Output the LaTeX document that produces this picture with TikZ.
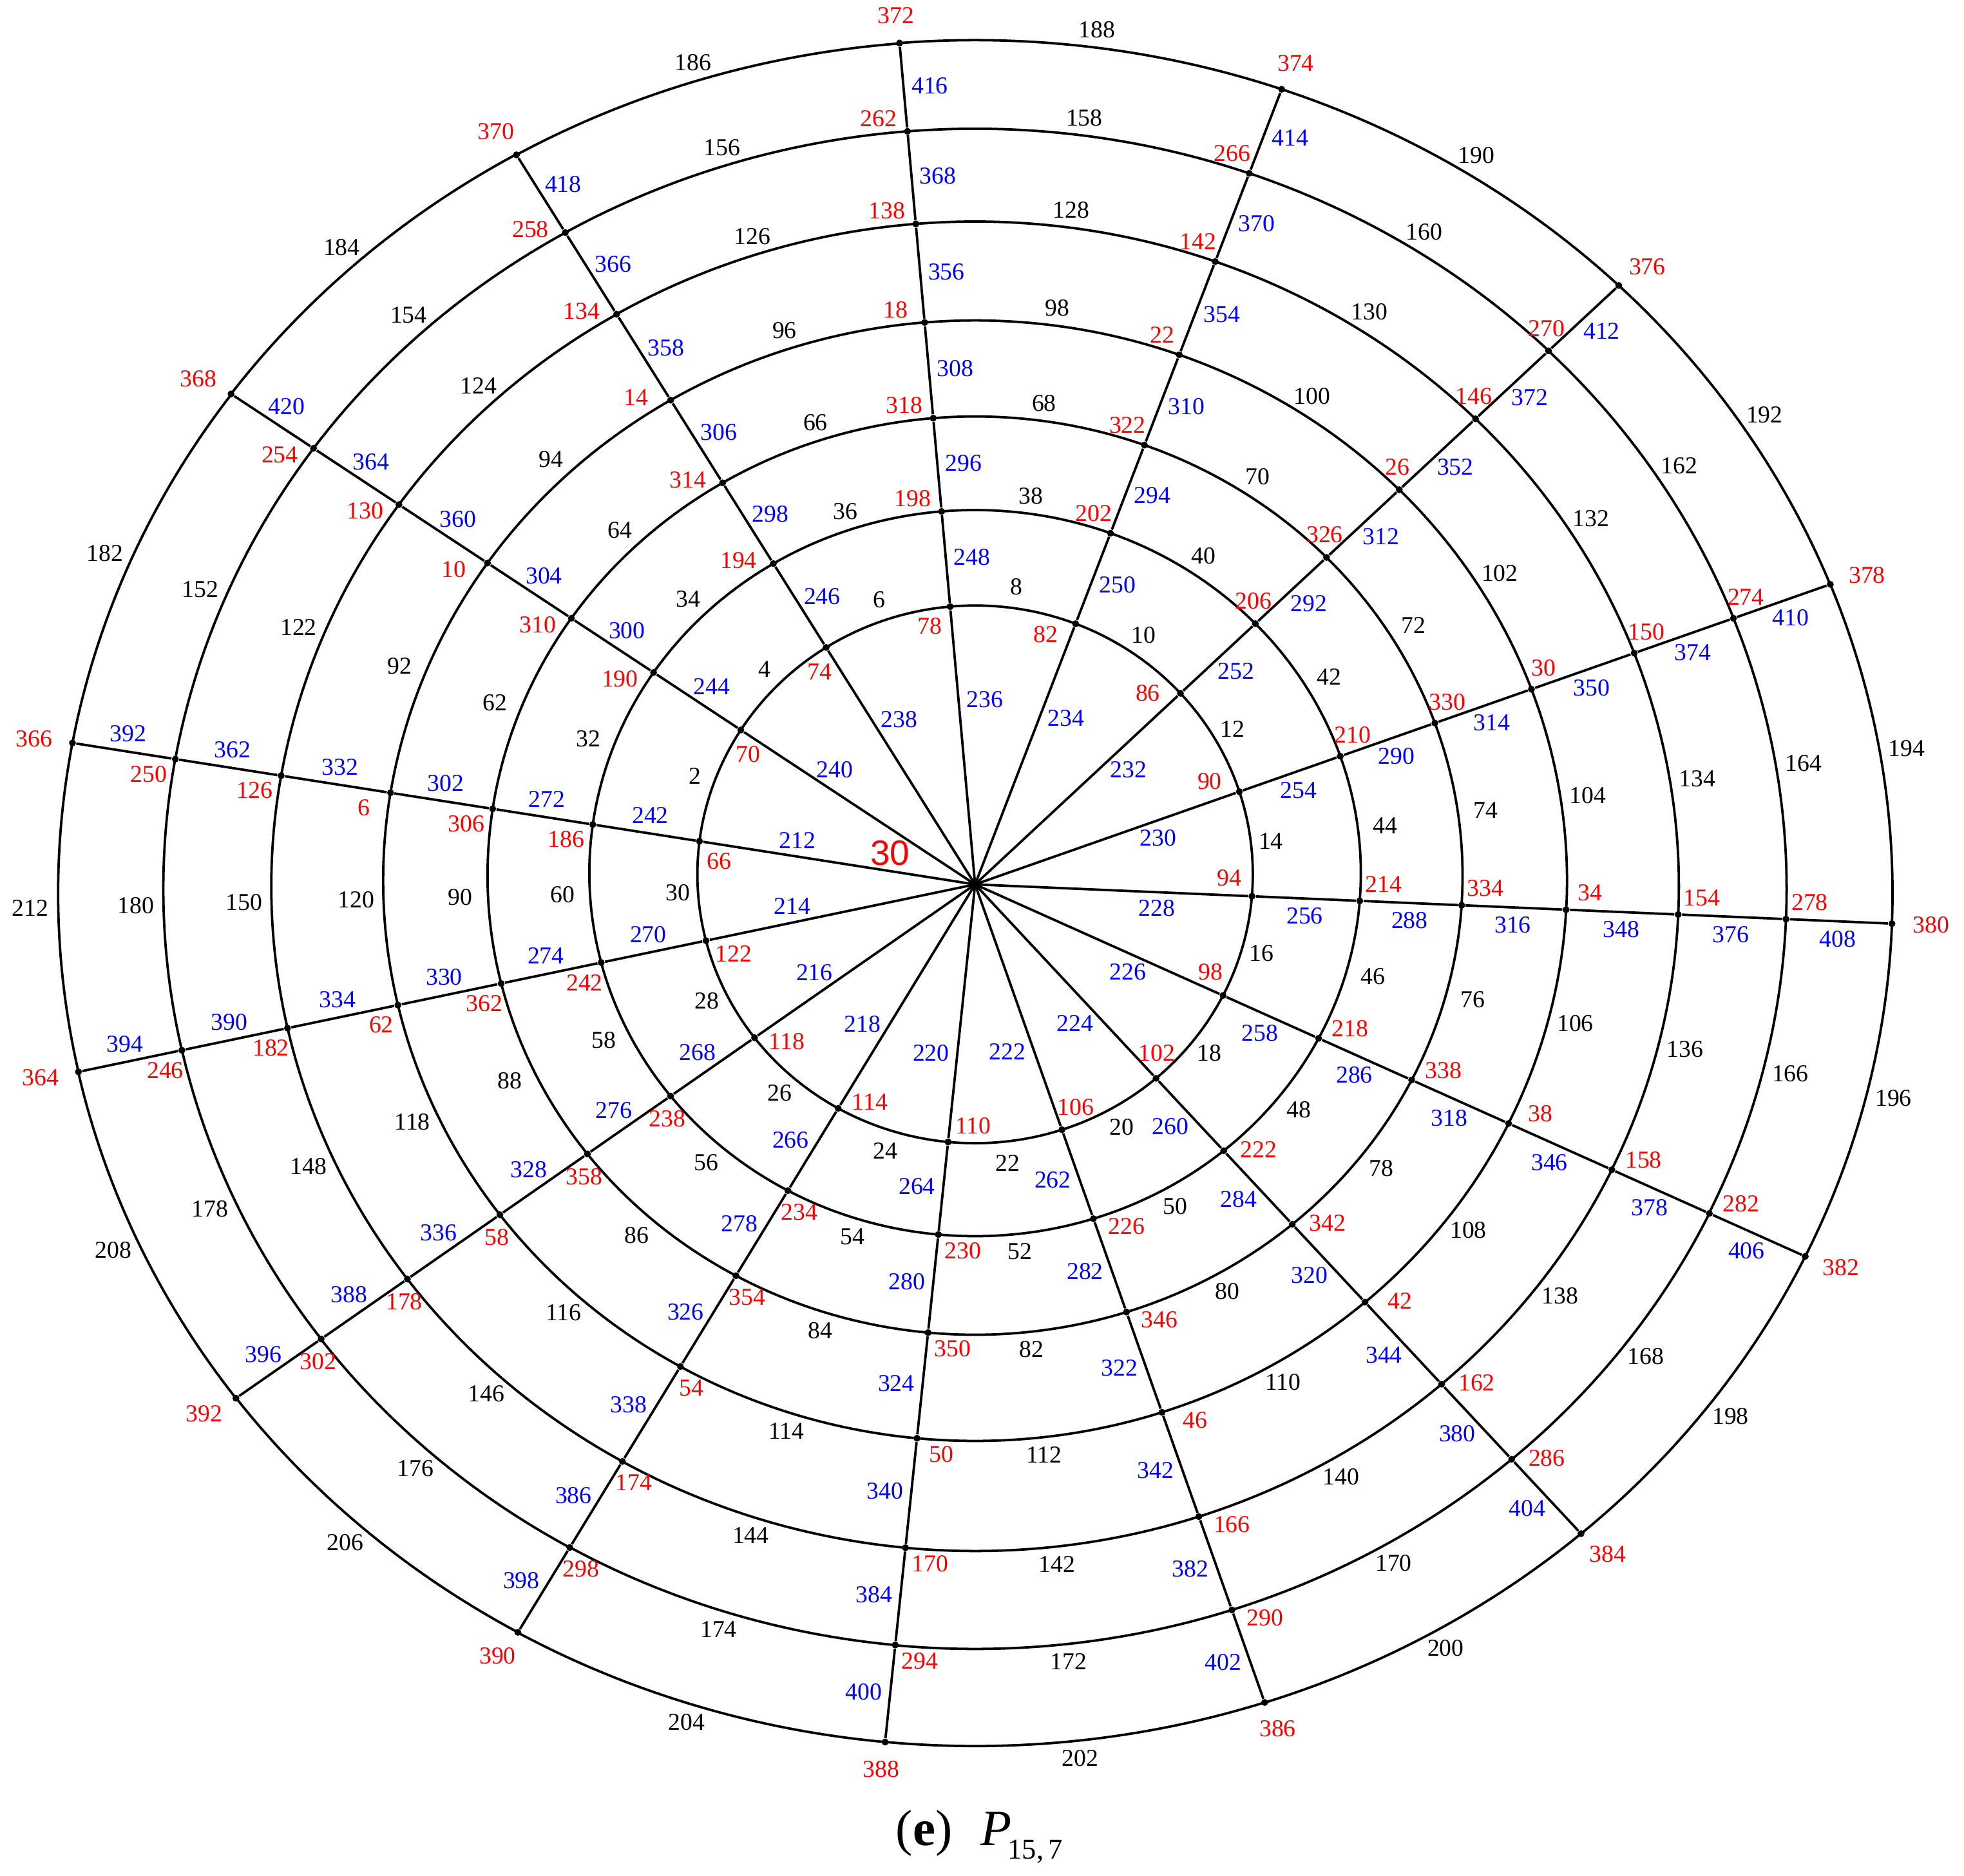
\documentclass[tikz,border=0pt]{standalone}
\usepackage{fontspec}
\setmainfont{Liberation Serif}
\newfontfamily\hubfont{Liberation Sans}
\usetikzlibrary{calc}

% polar radius (\rad) and ellipse parameter (\tpar) where a spoke meets a ring
\newcommand\ringhit[4]{%
  \pgfmathsetmacro\cs{cos(#4)}%
  \pgfmathsetmacro\sn{sin(#4)}%
  \pgfmathsetmacro\qa{(\cs/#1)*(\cs/#1)+(\sn/#2)*(\sn/#2)}%
  \pgfmathsetmacro\qb{\sn*(#3)/((#2)*(#2))}%
  \pgfmathsetmacro\qc{((#3)/(#2))*((#3)/(#2))-1}%
  \pgfmathsetmacro\rad{(\qb+sqrt(\qb*\qb-\qa*\qc))/\qa}%
  \pgfmathsetmacro\tpar{atan2((\rad*\sn-(#3))/(#2),\rad*\cs/(#1))}%
}

\def\spokeangles{{95.13,68.92,42.94,19.34,-2.45,-24.14,-46.98,-70.51,-95.99,-121.43,-145.19,-168.19,171.09,146.6,122.15}}
% vertex labels, ring 1 to ring 7
\def\vertexlabels{{78,82,86,90,94,98,102,106,110,114,118,122,66,70,74,
  198,202,206,210,214,218,222,226,230,234,238,242,186,190,194,
  318,322,326,330,334,338,342,346,350,354,358,362,306,310,314,
  18,22,26,30,34,38,42,46,50,54,58,62,6,10,14,
  138,142,146,150,154,158,162,166,170,174,178,182,126,130,134,
  262,266,270,274,278,282,286,290,294,298,302,246,250,254,258,
  372,374,376,378,380,382,384,386,388,390,392,364,366,368,370}}
% spoke labels, hub segment first
\def\spokelabels{{236,234,232,230,228,226,224,222,220,218,216,214,212,240,238,
  248,250,252,254,256,258,260,262,264,266,268,270,242,244,246,
  296,294,292,290,288,286,284,282,280,278,276,274,272,300,298,
  308,310,312,314,316,318,320,322,324,326,328,330,302,304,306,
  356,354,352,350,348,346,344,342,340,338,336,334,332,360,358,
  368,370,372,374,376,378,380,382,384,386,388,390,362,364,366,
  416,414,412,410,408,406,404,402,400,398,396,394,392,420,418}}
% ring edge labels
\def\edgelabels{{8,10,12,14,16,18,20,22,24,26,28,30,2,4,6,
  38,40,42,44,46,48,50,52,54,56,58,60,32,34,36,
  68,70,72,74,76,78,80,82,84,86,88,90,62,64,66,
  98,100,102,104,106,108,110,112,114,116,118,120,92,94,96,
  128,130,132,134,136,138,140,142,144,146,148,150,122,124,126,
  158,160,162,164,166,168,170,172,174,176,178,180,152,154,156,
  188,190,192,194,196,198,200,202,204,206,208,212,182,184,186}}

\begin{document}
\begin{tikzpicture}[x=2cm,y=2cm,
    dot/.style={circle,fill,inner sep=0pt,minimum size=0.11cm},
    ring/.style={line width=1.1pt},
    spoke/.style={line width=1.1pt},
    vlabel/.style={text=red,inner sep=0pt,font=\fontsize{11}{13}\selectfont},
    slabel/.style={text=blue,inner sep=0pt,font=\fontsize{11}{13}\selectfont},
    elabel/.style={text=black,inner sep=0pt,font=\fontsize{11}{13}\selectfont}]
  \path[use as bounding box,fill=white] (-7.76,-7.89) rectangle (7.87,7.04);
  \coordinate (hub) at (0,0);

  % rings: vertices, then the arcs between them
  \foreach \ri/\ringa/\ringb/\ringd/\ex/\ey in {1/2.21/2.14/0.08/0.16/0.17,
      2/3.07/2.89/0.09/0.22/0.14, 3/3.88/3.655/0.07/0.22/0.14,
      4/4.71/4.46/0.03/0.22/0.14, 5/5.60/5.29/-0.015/0.22/0.14,
      6/6.46/6.05/-0.035/0.22/0.14, 7/7.30/6.79/-0.07/0.22/0.14}{
    \foreach \k in {0,...,14}{
      \pgfmathsetmacro\ang{\spokeangles[\k]}
      \ringhit{\ringa}{\ringb}{\ringd}{\ang}
      \node[dot] (v\ri-\k) at (\ang:\rad) {};
      \expandafter\xdef\csname tpar\ri-\k\endcsname{\tpar}
    }
    \foreach \k in {0,...,14}{
      \pgfmathtruncatemacro\nx{mod(\k+1,15)}
      \edef\tfrom{\csname tpar\ri-\k\endcsname}
      \edef\tto{\csname tpar\ri-\nx\endcsname}
      \pgfmathsetmacro\tto{\tto>\tfrom ? \tto-360 : \tto}
      \pgfmathsetmacro\tmid{(\tfrom+\tto)/2}
      \pgfmathtruncatemacro\nm{\edgelabels[15*(\ri-1)+\k]}
      \draw[ring] (v\ri-\k.center) arc[start angle=\tfrom,end angle=\tto,x radius=\ringa,y radius=\ringb];
      \path (0,\ringd) ++(\tmid:{\ringa} and {\ringb}) ++(\tmid:{\ex} and {\ey}) node[elabel] (le\ri-\k) {\nm};
    }
  }

  % spokes
  \foreach \k in {0,...,14}{
    \pgfmathsetmacro\ang{\spokeangles[\k]}
    \pgfmathtruncatemacro\nm{\spokelabels[\k]}
    \draw[spoke] (hub) -- (v1-\k);
    \node[slabel] (ls0-\k) at ($(hub)!0.66!(v1-\k)+(\ang-90:0.21 and 0.125)$) {\nm};
    \foreach \sg [count=\sh from 2] in {1,...,6}{
      \pgfmathtruncatemacro\nm{\spokelabels[15*\sg+\k]}
      \draw[spoke] (v\sg-\k) -- (v\sh-\k);
      \node[slabel] (ls\sg-\k) at ($(v\sg-\k)!0.5!(v\sh-\k)+(\ang-90:0.21 and 0.14)$) {\nm};
    }
  }

  % vertex labels
  \foreach \ri/\turn/\lx/\ly in {1/136/0.26/0.20, 2/50/0.28/0.18, 3/50/0.28/0.18,
      4/50/0.28/0.18, 5/50/0.28/0.18, 6/50/0.28/0.18, 7/0/0.31/0.22}{
    \foreach \k in {0,...,14}{
      \pgfmathsetmacro\ang{\spokeangles[\k]}
      \pgfmathtruncatemacro\nm{\vertexlabels[15*(\ri-1)+\k]}
      \node[vlabel] (lv\ri-\k) at ($(v\ri-\k)+(\ang+\turn:{\lx} and {\ly})$) {\nm};
    }
  }

  \node[vlabel,font=\hubfont\fontsize{16}{18}\selectfont] (hublabel) at (-0.677,0.248) {30};
  \node[anchor=base west,inner sep=0pt,font=\fontsize{23}{26}\selectfont] (caption) at (-0.634,-7.647)
    {(\textbf{e})\hspace{0.45cm}\textit{P}\kern-0.06cm\raisebox{-0.22cm}{\fontsize{13}{15}\selectfont 15,\,7}};
\end{tikzpicture}
\end{document}
